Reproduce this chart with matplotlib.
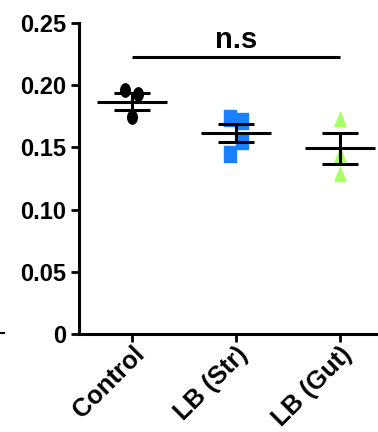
import numpy as np
import matplotlib
matplotlib.use("Agg")
import matplotlib.pyplot as plt
from matplotlib.path import Path
from matplotlib.lines import Line2D

plt.rcParams['font.family'] = ['Liberation Sans', 'DejaVu Sans']
plt.rcParams['font.weight'] = 'bold'

# ---- data ----
groups = ["Control", "LB (Str)", "LB (Gut)"]
control_vals = [0.1961, 0.1926, 0.1747]
str_vals = [0.1736, 0.1449, 0.1715, 0.1551]
gut_vals = [0.1730, 0.1439, 0.1285]
means = [0.1867, 0.1613, 0.1492]
sems = [0.0067, 0.0072, 0.0127]
yticks = [0, 0.05, 0.10, 0.15, 0.20, 0.25]
ytick_labels = ["0", "0.05", "0.10", "0.15", "0.20", "0.25"]
sig_text = "n.s"
sig_level = 0.223

# horizontal jitter of the points within each group
control_jit = [-0.064, 0.061, 0.002]
str_jit = [-0.06, -0.06, 0.06, 0.06]
gut_jit = [0.0, 0.0, 0.0]

# ---- marker shapes (vertically stretched like the reference) ----
uc = Path.unit_circle()
ellipse = Path(uc.vertices * np.array([0.72, 1.0]), uc.codes)
rect = Path([(-0.69, -1), (0.69, -1), (0.69, 1), (-0.69, 1), (-0.69, -1)],
            [Path.MOVETO, Path.LINETO, Path.LINETO, Path.LINETO, Path.CLOSEPOLY])
tri = Path([(-0.786, -1), (0.786, -1), (0, 1), (-0.786, -1)],
           [Path.MOVETO, Path.LINETO, Path.LINETO, Path.CLOSEPOLY])

fig = plt.figure(figsize=(3.78, 4.32), dpi=100)
ax = fig.add_axes([79/378, (432-334)/432, (378-79)/378, (334-23)/432])

x = np.arange(len(groups))
ax.plot(x[0] + np.array(control_jit), control_vals, linestyle='none',
        marker=ellipse, markersize=9.6, color='black', zorder=2)
ax.plot(x[1] + np.array(str_jit), str_vals, linestyle='none',
        marker=rect, markersize=11.5, color='#1A80FF', zorder=2)
ax.plot(x[2] + np.array(gut_jit), gut_vals, linestyle='none',
        marker=tri, markersize=10.2, color='#A8FF66', zorder=2)

# mean lines
ax.hlines(means, x - 0.34, x + 0.34, color='black', linewidth=2.2, zorder=3)
# SEM
ax.errorbar(x, means, yerr=sems, fmt='none', ecolor='black', elinewidth=2.2,
            capsize=13, capthick=2.2, zorder=3)

# significance line
ax.plot([x[0], x[2]], [sig_level, sig_level], color='black', linewidth=2.2,
        solid_capstyle='butt', clip_on=False)
ax.text(x[1], sig_level + 0.0068, sig_text, ha='center', va='baseline',
        fontsize=21, fontweight='bold')

ax.set_xlim(-0.51, 2.365)
ax.set_ylim(0, 0.25)
ax.set_yticks(yticks)
ax.set_yticklabels(ytick_labels)
ax.set_xticks(x)
ax.set_xticklabels(groups, rotation=45, ha='right', rotation_mode='anchor')

for s in ['top', 'right']:
    ax.spines[s].set_visible(False)
for s in ['left', 'bottom']:
    ax.spines[s].set_linewidth(2.2)
ax.tick_params(axis='both', width=2, length=5.5, labelsize=17, pad=4, colors='black')
ax.tick_params(axis='x', pad=0.5, labelsize=18.3)
for lab in ax.get_xticklabels() + ax.get_yticklabels():
    lab.set_fontweight('bold')

# small mark at the far left edge of the image
fig.add_artist(Line2D([0, 4/378], [(432-333)/432, (432-333)/432],
                      color='black', linewidth=1.5, transform=fig.transFigure))

fig.savefig("out.png", dpi=100)
